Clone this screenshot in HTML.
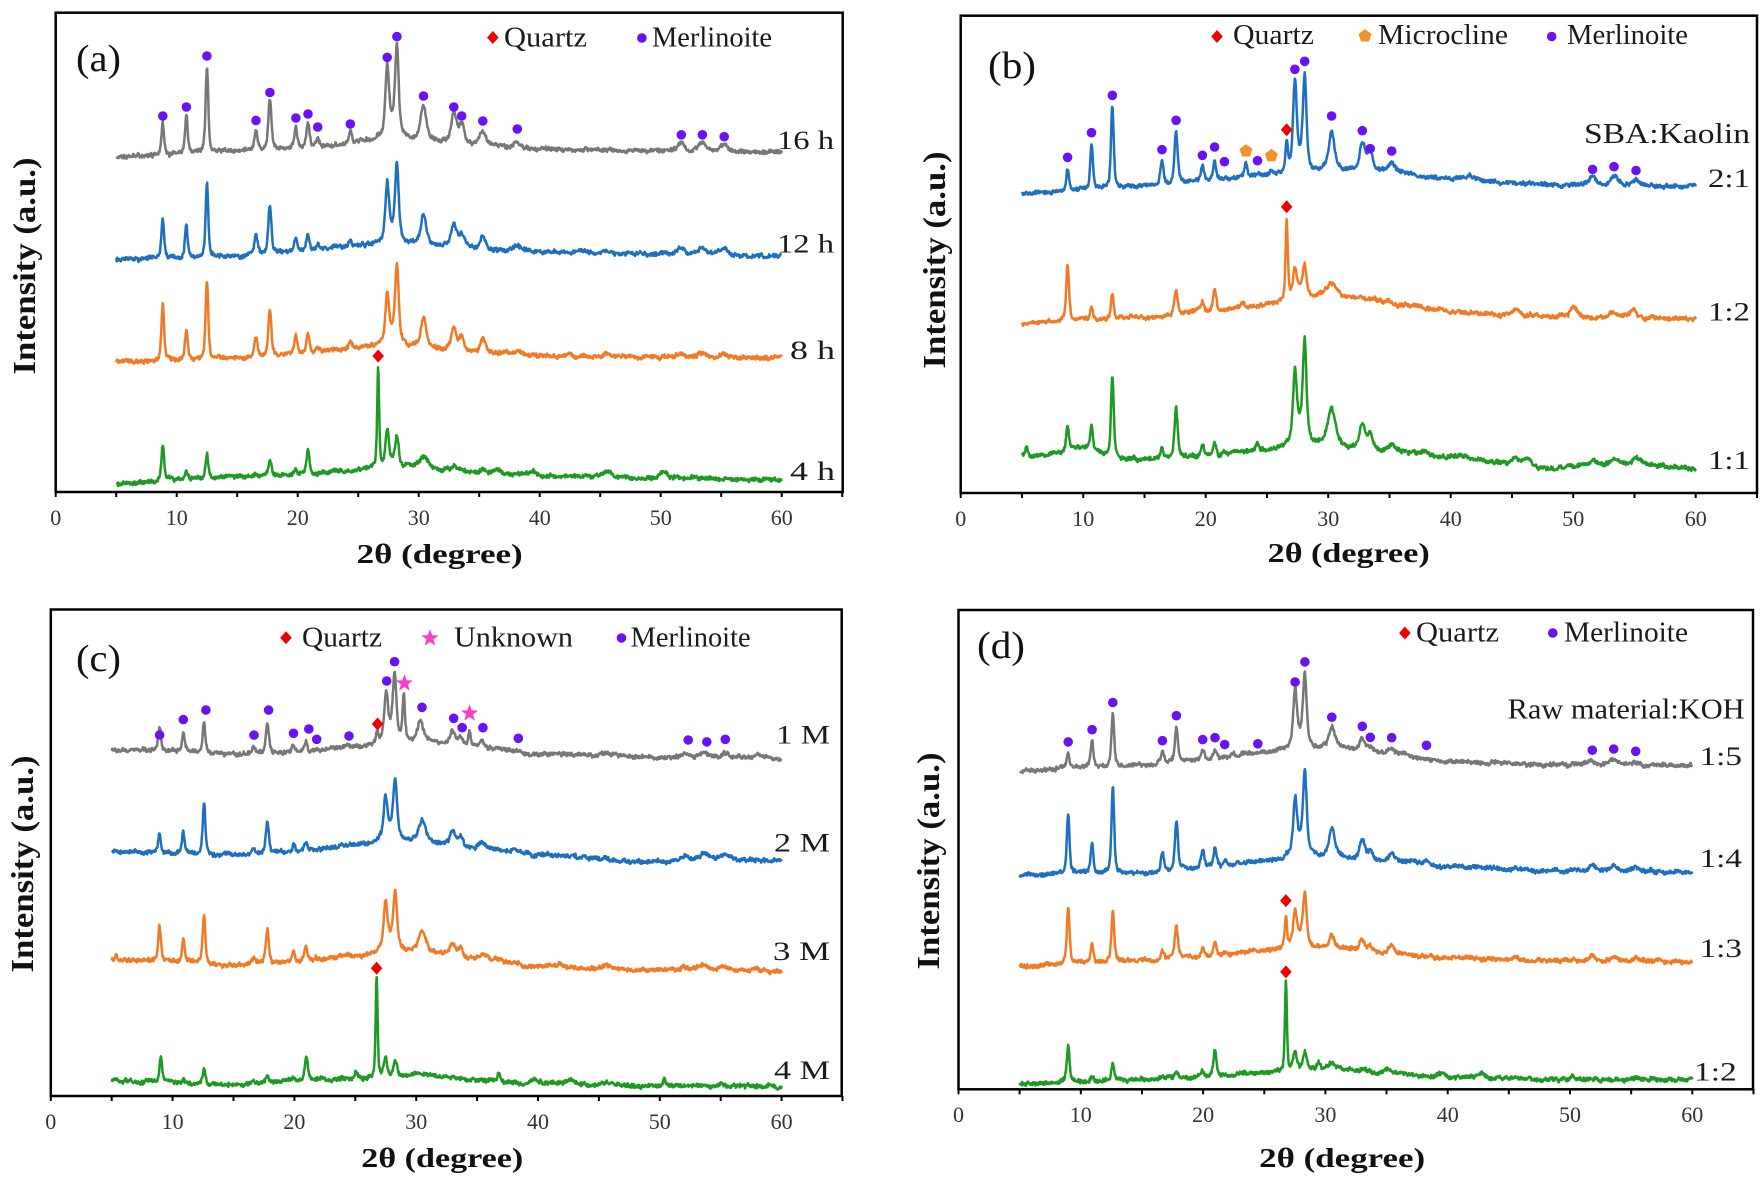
<!DOCTYPE html>
<html><head><meta charset="utf-8">
<style>
html,body{margin:0;padding:0;background:#fff;}
svg{display:block;}
text{font-family:"Liberation Serif","Times New Roman",serif;}
.t{font-size:22px;fill:#333;text-anchor:middle;}
.xt{font-size:27px;font-weight:bold;fill:#111;}
.yt{font-size:32px;font-weight:bold;fill:#111;text-anchor:middle;}
.lg{font-size:28px;fill:#1a1a1a;}
.lb{font-size:26px;fill:#1a1a1a;}
.pl{font-size:38px;fill:#111;}
</style></head><body>
<svg id="s" width="1762" height="1185" viewBox="0 0 1762 1185" xmlns="http://www.w3.org/2000/svg">
<rect width="1762" height="1185" fill="#fff"/>
<g id="data"></g>
<g fill="none" stroke="#000" stroke-width="2.5">
<rect x="55.7" y="12.7" width="787" height="479.3"/>
<rect x="960.7" y="15.7" width="796.3" height="477.3"/>
<rect x="50.8" y="609.5" width="790.9" height="486.5"/>
<rect x="958.5" y="610" width="794.5" height="479.3"/>
</g>
<g id="ticks" stroke="#000" stroke-width="2"></g>
<g id="marks"></g>

<!-- tick labels -->
<g class="t">
<text x="55.7" y="525">0</text><text x="176.7" y="525">10</text><text x="297.7" y="525">20</text><text x="418.7" y="525">30</text><text x="539.7" y="525">40</text><text x="660.7" y="525">50</text><text x="781.7" y="525">60</text>
<text x="960.7" y="526">0</text><text x="1083.2" y="526">10</text><text x="1205.7" y="526">20</text><text x="1328.2" y="526">30</text><text x="1450.7" y="526">40</text><text x="1573.2" y="526">50</text><text x="1695.7" y="526">60</text>
<text x="50.8" y="1129">0</text><text x="172.6" y="1129">10</text><text x="294.4" y="1129">20</text><text x="416.2" y="1129">30</text><text x="538" y="1129">40</text><text x="659.8" y="1129">50</text><text x="781.6" y="1129">60</text>
<text x="958.5" y="1122">0</text><text x="1080.8" y="1122">10</text><text x="1203.1" y="1122">20</text><text x="1325.4" y="1122">30</text><text x="1447.7" y="1122">40</text><text x="1570" y="1122">50</text><text x="1692.3" y="1122">60</text>
</g>

<!-- x titles -->
<text class="xt" x="356.7" y="563" textLength="166" lengthAdjust="spacingAndGlyphs">2θ (degree)</text>
<text class="xt" x="1267.7" y="562" textLength="162" lengthAdjust="spacingAndGlyphs">2θ (degree)</text>
<text class="xt" x="361.3" y="1167" textLength="162" lengthAdjust="spacingAndGlyphs">2θ (degree)</text>
<text class="xt" x="1259.2" y="1167" textLength="166" lengthAdjust="spacingAndGlyphs">2θ (degree)</text>

<!-- y titles -->
<text class="yt" transform="translate(35,266) rotate(-90)" textLength="217" lengthAdjust="spacingAndGlyphs">Intensity (a.u.)</text>
<text class="yt" transform="translate(945,260) rotate(-90)" textLength="217" lengthAdjust="spacingAndGlyphs">Intensity (a.u.)</text>
<text class="yt" transform="translate(33,864) rotate(-90)" textLength="217" lengthAdjust="spacingAndGlyphs">Intensity (a.u.)</text>
<text class="yt" transform="translate(939,861) rotate(-90)" textLength="217" lengthAdjust="spacingAndGlyphs">Intensity (a.u.)</text>

<!-- panel letters -->
<text class="pl" x="76" y="71" textLength="45" lengthAdjust="spacingAndGlyphs">(a)</text>
<text class="pl" x="988" y="78" textLength="48" lengthAdjust="spacingAndGlyphs">(b)</text>
<text class="pl" x="76" y="671" textLength="45" lengthAdjust="spacingAndGlyphs">(c)</text>
<text class="pl" x="977" y="658" textLength="48" lengthAdjust="spacingAndGlyphs">(d)</text>

<!-- legends -->
<text class="lg" x="504" y="46.7" textLength="83" lengthAdjust="spacingAndGlyphs">Quartz</text>
<text class="lg" x="652" y="46.7" textLength="120" lengthAdjust="spacingAndGlyphs">Merlinoite</text>
<text class="lg" x="1233" y="44" textLength="81" lengthAdjust="spacingAndGlyphs">Quartz</text>
<text class="lg" x="1378" y="44" textLength="130" lengthAdjust="spacingAndGlyphs">Microcline</text>
<text class="lg" x="1567" y="44" textLength="121" lengthAdjust="spacingAndGlyphs">Merlinoite</text>
<text class="lg" x="302" y="646.5" textLength="80" lengthAdjust="spacingAndGlyphs">Quartz</text>
<text class="lg" x="454" y="646.5" textLength="119" lengthAdjust="spacingAndGlyphs">Unknown</text>
<text class="lg" x="630.6" y="646.5" textLength="120" lengthAdjust="spacingAndGlyphs">Merlinoite</text>
<text class="lg" x="1416" y="641.5" textLength="83" lengthAdjust="spacingAndGlyphs">Quartz</text>
<text class="lg" x="1564" y="641.5" textLength="124" lengthAdjust="spacingAndGlyphs">Merlinoite</text>

<!-- series labels -->
<text class="lb" x="777" y="149" textLength="57" lengthAdjust="spacingAndGlyphs">16 h</text>
<text class="lb" x="777" y="252.5" textLength="57" lengthAdjust="spacingAndGlyphs">12 h</text>
<text class="lb" x="790" y="359" textLength="45" lengthAdjust="spacingAndGlyphs">8 h</text>
<text class="lb" x="790" y="480" textLength="45" lengthAdjust="spacingAndGlyphs">4 h</text>

<text class="lb" style="font-size:28px" x="1584" y="143" textLength="166" lengthAdjust="spacingAndGlyphs">SBA:Kaolin</text>
<text class="lb" x="1708" y="187" textLength="42" lengthAdjust="spacingAndGlyphs">2:1</text>
<text class="lb" x="1708" y="320.7" textLength="42" lengthAdjust="spacingAndGlyphs">1:2</text>
<text class="lb" x="1708" y="469" textLength="42" lengthAdjust="spacingAndGlyphs">1:1</text>

<text class="lb" x="776" y="743.5" textLength="54" lengthAdjust="spacingAndGlyphs">1 M</text>
<text class="lb" x="774" y="851.5" textLength="56" lengthAdjust="spacingAndGlyphs">2 M</text>
<text class="lb" x="773" y="960" textLength="57" lengthAdjust="spacingAndGlyphs">3 M</text>
<text class="lb" x="774" y="1079" textLength="56" lengthAdjust="spacingAndGlyphs">4 M</text>

<text class="lb" style="font-size:28px" x="1507.6" y="718.5" textLength="237" lengthAdjust="spacingAndGlyphs">Raw material:KOH</text>
<text class="lb" x="1699.6" y="765" textLength="42.3" lengthAdjust="spacingAndGlyphs">1:5</text>
<text class="lb" x="1699.6" y="867" textLength="42.3" lengthAdjust="spacingAndGlyphs">1:4</text>
<text class="lb" x="1699.6" y="957" textLength="42.3" lengthAdjust="spacingAndGlyphs">1:3</text>
<text class="lb" x="1694" y="1080.7" textLength="42.7" lengthAdjust="spacingAndGlyphs">1:2</text>
</svg>

<script>
(function(){
var NS='http://www.w3.org/2000/svg';
function el(tag,attrs,parent){var e=document.createElementNS(NS,tag);for(var k in attrs)e.setAttribute(k,attrs[k]);parent.appendChild(e);return e;}
function rng(a){return function(){a|=0;a=a+0x6D2B79F5|0;var t=Math.imul(a^a>>>15,1|a);t=t+Math.imul(t^t>>>7,61|t)^t;return((t^t>>>14)>>>0)/4294967296;};}
function interp(pts,x){
  if(x<=pts[0][0])return pts[0][1];
  for(var i=1;i<pts.length;i++){
    if(x<=pts[i][0]){var x0=pts[i-1][0],y0=pts[i-1][1],x1=pts[i][0],y1=pts[i][1];
      var t=(x-x0)/(x1-x0);var s=(1-Math.cos(Math.PI*t))/2;return y0+(y1-y0)*s;}
  }
  return pts[pts.length-1][1];
}
function hwd(c){return c<15?0.13:c<26?0.15:c<29.5?0.17:c<36?0.25:0.34;}
function shape(d,w){var r=d*d/(w*w);return 0.5/(1+r)+0.5*Math.exp(-0.6931*r);}
var P={
 a:{x0:55.7,k:12.1,ax:492,o:0},
 b:{x0:960.7,k:12.25,ax:493,o:-0.12},
 c:{x0:50.8,k:12.18,ax:1096,o:0.08},
 d:{x0:958.5,k:12.23,ax:1089.3,o:0.12}
};
var data=document.getElementById('data'),marks=document.getElementById('marks'),ticks=document.getElementById('ticks');
for(var id in P){var p=P[id];for(var g=0;g<=65;g+=5){var x=p.x0+p.k*g;el('line',{x1:x.toFixed(1),y1:p.ax,x2:x.toFixed(1),y2:p.ax+5},ticks);}}

function series(pid,color,base,peaks,broad,seed){
  var p=P[pid],R=rng(seed);
  var pk=peaks.map(function(q){return [q[0]+p.o,q[1],q[2]?q[2]*1.2:hwd(q[0])];});
  var br=(broad||[]).map(function(b){return [b[0]+p.o,b[1],b[2]];});
  var n=pk.length,i,j;
  var tgt=pk.map(function(q){return Math.max(0,interp(base,q[0])-q[1]);});
  var h=tgt.slice();
  for(var it=0;it<60;it++){for(i=0;i<n;i++){var cur=0;for(j=0;j<n;j++)cur+=h[j]*shape(pk[i][0]-pk[j][0],pk[j][2]);
    for(var b=0;b<br.length;b++)cur+=br[b][1]*shape(pk[i][0]-br[b][0],br[b][2]);
    h[i]=Math.max(0,h[i]+0.6*(tgt[i]-cur));}}
  var d='',lf=0,N=Math.round(55/0.04);
  for(var s=0;s<=N;s++){
    var xx=5+s*55/N,y=interp(base,xx);
    for(i=0;i<n;i++){var dd=xx-pk[i][0];if(dd>-5&&dd<5)y-=h[i]*shape(dd,pk[i][2]);}
    for(var b2=0;b2<br.length;b2++)y-=br[b2][1]*shape(xx-br[b2][0],br[b2][2]);
    lf=0.8*lf+0.2*(R()-0.5)*2;
    y+=1.8*(0.9*(R()-0.5)*2+2.2*lf);
    d+=(s?'L':'M')+(p.x0+p.k*xx).toFixed(1)+' '+y.toFixed(1);
  }
  el('path',{d:d,fill:'none',stroke:color,'stroke-width':2.5,'stroke-linejoin':'round'},data);
}
var GR='#777777',BL='#1f6fbf',OR='#f07b26',GN='#1e9a24';

/* ---------- Panel A ---------- */
series('a',GR,[[5,157],[8,155.5],[12,153],[16,151],[20,148],[23,145],[26,141],[28,139],[31,142],[35,146],[40,149],[45,150],[50,151],[60,152]],
[[8.85,123.5],[10.8,114],[12.5,68.7],[16.55,131],[17.7,99],[19.85,127],[20.85,123.5],[21.65,138.6],[24.35,131],[27.4,63],[28.2,42.2],[30.4,104.6],[32.9,112],[33.55,121.6],[35.3,131],[38.15,142.4],[51.7,142],[53.45,142],[55.25,143.5]],
[[27.8,15,0.6],[30.4,6,0.5],[33.2,5,0.6],[35.3,4,0.6]],11);
series('a',BL,[[5,260],[10,258],[15,256],[20,252],[24,247],[27,244],[31,246],[35,250],[40,252],[50,254],[60,256]],
[[8.85,218],[10.8,225],[12.5,184],[16.55,234],[17.7,204],[19.85,236],[20.85,234],[21.65,244],[24.35,240],[27.4,182],[28.2,161],[30.4,214],[32.9,223.6],[33.55,233],[35.3,236],[38.15,244],[45.5,250],[51.7,248],[53.45,247],[55.25,249]],
[[27.8,12,0.6],[30.4,5,0.5],[33.2,4,0.6]],12);
series('a',OR,[[5,362.5],[10,360],[15,358],[20,354],[24,349],[27,346],[31,349],[35,353],[40,355.5],[50,357],[60,358]],
[[8.85,303],[10.8,329.4],[12.5,280],[16.55,337.7],[17.7,308.6],[19.85,335],[20.85,333],[21.65,346],[24.35,342.6],[27.4,291.6],[28.2,263.3],[30.4,318],[32.9,327.5],[33.55,335],[35.3,339],[38.15,350],[45.5,353],[51.7,354],[53.45,353],[55.25,354]],
[[27.8,12,0.6],[30.4,5,0.5]],13);
series('a',GN,[[5,484.3],[8,481.5],[10,479],[15,477],[20,475],[24,471],[27,467.5],[30,467],[33,470],[36,473],[40,476],[50,478],[60,479.5]],
[[8.85,444.6],[10.8,471],[12.5,454],[16.55,473],[17.7,460],[19.85,469],[20.85,450],[26.65,367,0.08],[27.4,429.5],[28.2,435],[30.4,456,0.3],[32.9,465.4],[35.3,469],[36.55,469],[39.45,472],[45.6,471],[50.2,471]],
[[27.8,5,0.6]],14);

/* ---------- Panel B ---------- */
series('b',BL,[[5,193.7],[10,190],[15,186],[20,180.6],[25,175],[28,172],[31,171],[35,173],[40,179],[45,183],[50,185],[60,186]],
[[8.85,167.5],[10.8,143.1],[12.5,105.7],[16.55,160],[17.7,131.9],[19.85,165.6],[20.85,160],[21.65,176.9],[23.41,163.5],[24.35,173],[25.48,171.3],[26.73,140,0.1],[27.4,78],[28.2,72.5],[30.4,130],[32.9,141.5],[33.55,150.6],[35.3,162],[41.6,176,0.6],[51.7,177],[53.45,175],[55.25,180.6]],
[[27.75,12,0.5],[30.4,6,0.5],[33.2,5,0.6],[35.3,4,0.6]],21);
series('b',OR,[[5,325],[8,321],[10,319.4],[15,317.4],[20,311],[25,305],[28,299],[30,295],[33,299],[36,305],[40,311.8],[45,315.5],[50,317],[60,318.5]],
[[8.85,265],[10.8,308],[12.5,295],[17.7,289.3],[19.85,302.4],[20.85,287.4],[23.2,303],[26.73,217.4,0.09],[27.4,266.8],[28.2,263],[30.4,282.6,0.35],[32.9,296.8],[35.1,300.6],[36.8,305],[39.5,309],[45.4,309],[50.2,307.3],[53.4,312],[55,311]],
[[27.8,10,0.6]],22);
series('b',GN,[[5,456],[10,455],[15,459.8],[20,456],[23,452],[26,449],[29,447],[32,449],[35,451],[40,458],[45,463.6],[48,469],[50,466],[55,465],[60,468]],
[[5.5,446,0.1],[8.85,426],[10.8,426],[12.5,375.5],[16.55,448.6],[17.7,407.4],[19.85,444.9],[20.85,443.7],[21.65,450.5],[24.35,443],[27.4,368],[28.2,338],[30.4,409.2,0.3],[32.9,424.2],[33.55,431.7],[35.3,443],[38.15,452.3],[41,455,0.5],[45.5,458],[46.4,458],[51.8,461],[53.5,458,0.35],[55.3,458,0.35]],
[[9.8,8,1.2],[27.8,22,0.6],[30.4,8,0.6]],23);

/* ---------- Panel C ---------- */
series('c',GR,[[5,749.5],[10,751.4],[15,754],[20,752],[25,747],[28,744],[31,742],[35,747],[40,754],[50,757],[60,758.2]],
[[8.85,726.8],[10.8,732.5],[12.5,723.3],[16.55,746],[17.7,723],[19.85,743.8],[20.85,741.9],[21.65,748],[24.35,745.7],[26.7,731.7,0.1],[27.45,691],[28.15,672.3],[28.9,693.3,0.1],[30.25,720],[31.5,745],[32.9,730.6],[33.55,736],[34.3,730,0.1],[35.3,740],[38.15,750],[45.5,753],[52,753],[53.6,753],[55.3,753],[58,755]],
[[27.8,15,0.6],[30.3,5,0.5]],31);
series('c',BL,[[5,851.6],[10,853.5],[15,855.4],[20,852],[25,845],[28,842],[31,843],[35,848],[40,855],[48,862],[55,860],[60,860.4]],
[[8.85,830.8],[10.8,831.6],[12.5,802.5],[16.55,847.9],[17.7,819.5],[19.85,844.1],[20.85,842.2],[21.65,850],[24.35,844],[27.4,794.9],[28.2,776],[30.4,821.4,0.3],[32.9,830.8],[33.55,836],[35.3,842],[38.15,850],[45.5,857],[52,856],[53.6,854,0.35],[55.3,855,0.35]],
[[27.8,14,0.6]],32);
series('c',OR,[[5,959.5],[10,961],[15,965],[20,962],[25,956],[28,952],[31,953],[35,959],[40,967],[50,970],[60,970.8]],
[[5.3,955,0.08],[8.85,925.4],[10.8,938.7],[12.5,912.2],[16.55,957],[17.7,929.2],[19.85,950],[20.85,946],[21.65,958],[24.35,954],[27.4,900.8],[28.2,889.5],[30.4,931.1,0.3],[32.9,942.5],[33.55,948],[35.3,953],[36.6,958],[38.15,962],[41.8,964,0.4],[45.5,965],[51.9,966],[53.5,964,0.35],[55.2,967]],
[[27.8,14,0.6]],33);
series('c',GN,[[5,1080.6],[10,1082.5],[15,1084.3],[20,1081],[25,1079],[28,1076],[31,1075.6],[35,1080],[40,1084],[50,1086],[60,1086.2]],
[[8.95,1057.9],[10.8,1079.5],[12.5,1068.5],[16.55,1083],[17.7,1076.8],[19.85,1077],[20.9,1057.9],[25,1073],[26.67,976.5,0.08],[27.4,1057.9],[28.2,1059.8],[30.3,1073,0.3],[33,1078],[35.3,1079],[36.7,1074,0.1],[39.6,1079],[42.6,1080],[45.7,1082],[50.3,1078.7,0.1],[55,1084]],
[],34);

/* ---------- Panel D ---------- */
series('d',GR,[[5,771],[10,767.3],[15,765],[20,759.7],[25,752],[28,749],[31,748],[35,753],[40,761.6],[50,765],[60,765.4]],
[[8.85,752],[10.8,740.7],[12.5,712.3],[16.55,751.3],[17.7,727.5],[19.85,748.3],[20.85,749],[21.65,757],[24.35,757],[27.4,687.7],[28.2,672.5],[30.4,727.5],[32.9,737],[33.55,745],[35.3,748.3],[38.15,759],[51.7,761],[53.45,758],[55.25,762]],
[[27.8,12,0.6],[30.4,4,0.5]],41);
series('d',BL,[[5,875.3],[10,873.4],[15,873],[20,868],[25,861],[28,857],[31,858],[35,862],[40,867],[50,871],[60,872]],
[[8.85,812],[10.8,841.1],[12.5,788.1],[16.55,852.5],[17.7,819.6],[19.85,849.9],[20.85,846.8],[21.65,860],[24.35,860],[27.4,795.7],[28.2,769.2],[30.4,827.9],[32.9,838.5],[33.55,850],[35.3,852],[36.9,860],[38.15,860],[51.7,866],[53.45,865],[55.25,867]],
[[27.8,15,0.6],[30.4,5,0.5]],42);
series('d',OR,[[5,966.2],[10,962.4],[15,960.5],[20,956.7],[25,951],[28,948],[31,949],[35,953],[40,958],[50,961],[60,961.5]],
[[8.85,907.5],[10.8,941.6],[12.5,911.2],[16.55,949.2],[17.7,926.4],[19.85,947],[20.85,941.6],[21.65,953],[24.35,951],[26.65,915,0.09],[27.4,909.4],[28.2,890.4],[30.4,934],[32.9,938.5],[33.55,945],[35.3,945],[45.5,958],[51.7,957],[53.45,957],[55.25,958]],
[[27.8,12,0.6]],43);
series('d',GN,[[5,1083.7],[10,1081.8],[15,1079.9],[20,1077.2],[25,1072.3],[28,1070],[31,1069.6],[35,1073],[40,1077.2],[50,1079.9],[60,1079.9]],
[[8.85,1043.9],[10.8,1076],[12.5,1062.1],[16.55,1076],[17.7,1070.4],[19.85,1072],[20.85,1047.7],[26.65,981.4,0.08],[27.4,1049.6],[28.2,1051.5],[29.3,1063],[30.4,1062.8,0.3],[32.9,1068],[35,1070],[39.4,1074],[42.5,1074],[45.3,1077],[50.1,1075.3,0.1],[55,1077]],
[],44);

/* ---------- markers ---------- */
function circ(x,y){el('circle',{cx:x.toFixed(1),cy:y,r:4.8,fill:'#6a12f2'},marks);}
function dia(x,y){el('polygon',{points:x+','+(y-6.5)+' '+(x+5.8)+','+y+' '+x+','+(y+6.5)+' '+(x-5.8)+','+y,fill:'#f00000'},marks);}
function pent(x,y){var pts=[];for(var i=0;i<5;i++){var a=-Math.PI/2+i*2*Math.PI/5;pts.push((x+6.8*Math.cos(a)).toFixed(1)+','+(y+6.8*Math.sin(a)).toFixed(1));}el('polygon',{points:pts.join(' '),fill:'#f0922e'},marks);}
function star(x,y){var pts=[];for(var i=0;i<10;i++){var r=i%2?3.7:9;var a=-Math.PI/2+i*Math.PI/5;pts.push((x+r*Math.cos(a)).toFixed(1)+','+(y+r*Math.sin(a)).toFixed(1));}el('polygon',{points:pts.join(' '),fill:'#ff3cc8'},marks);}
function mx(pid,deg){var p=P[pid];return p.x0+p.k*(deg+p.o);}
var M=[8.85,10.8,12.5,16.55,17.7,19.85,20.85,21.65,24.35,27.4,28.2,30.4,32.9,33.55,35.3,38.15,51.7,53.45,55.25];
function mset(pid,ys,degs){for(var i=0;i<ys.length;i++){if(ys[i]==null)continue;circ(mx(pid,(degs||M)[i]),ys[i]);}}
mset('a',[116,107,56,120.5,92.5,118,114,127,124,57.4,36.6,96,107,116,121,129,134.8,134.8,136.7]);
dia(mx('a',26.65),356);
mset('b',[157.3,132.7,95.3,149.7,120.3,155.3,147,161.7,160.7,69.3,61.3,116,130.7,148.7,151,null,169.4,166.7,170.5]);
pent(mx('b',23.41),151);pent(mx('b',25.48),155.7);
dia(mx('b',26.73),129.7);dia(mx('b',26.73),206.8);
mset('c',[735,719.6,710,735.1,710.1,733.3,729,739.3,736,681,661.7,707.3,718.3,727.7,727.7,738.3,740,741.9,739.3],
 [8.85,10.8,12.65,16.6,17.8,19.85,21.1,21.75,24.4,27.5,28.15,30.4,33.0,33.7,35.4,38.3,52.25,53.78,55.3]);
dia(mx('c',26.75),724);dia(mx('c',26.67),968.2);
star(mx('c',28.95),683.3);star(mx('c',34.3),713.3);
mset('d',[741.9,729.7,702.5,740.7,715.7,739.6,737.7,744.5,743.8,682,661.9,717.2,726.3,737.3,737.7,745.3,750.2,749,751.3]);
dia(mx('d',26.65),900.6);dia(mx('d',26.65),971.9);

/* legend markers */
dia(492.8,37.5);circ(641.9,38);
dia(1217,36.5);pent(1365,36);circ(1551.7,36.5);
dia(286,637.7);star(430,638.3);circ(621.5,638);
dia(1404.9,633);circ(1552.8,633);
})();
</script>
</body></html>
